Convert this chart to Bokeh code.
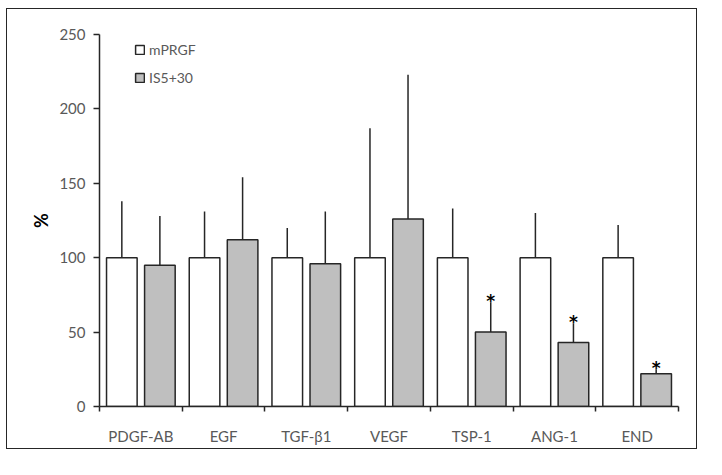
from bokeh.plotting import figure
from bokeh.layouts import column, row
from bokeh.models import FixedTicker, Legend, LegendItem, Spacer
from bokeh.core.properties import value
from bokeh.embed import file_html
from bokeh.resources import INLINE

# data
factors = ["PDGF-AB", "EGF", "TGF-β1", "VEGF", "TSP-1", "ANG-1", "END"]
mprgf = [100, 100, 100, 100, 100, 100, 100]
mprgf_err = [38, 31, 20, 87, 33, 30, 22]
is530 = [95, 112, 96, 126, 50, 43, 22]
is530_err = [33, 42, 35, 97, 20, 13, 3]
significant = [False, False, False, False, True, True, True]
y_ticks = [0, 50, 100, 150, 200, 250]

FONT = "Lato"
TEXT = "#595959"
LINE = "#262626"
GRAY = "#bfbfbf"

offset = 0.23
bar_w = 0.37
centers = [i + 0.5 for i in range(len(factors))]
x_white = [c - offset for c in centers]
x_gray = [c + offset for c in centers]

p = figure(
    width=691,
    height=441,
    x_range=(0, len(factors)),
    y_range=(0, 250),
    output_backend="svg",
    toolbar_location=None,
    min_border_left=92,
    min_border_right=20,
    min_border_top=25,
    min_border_bottom=44,
    outline_line_color=None,
    background_fill_color="white",
    border_fill_color="white",
)
# chart-area border like the spreadsheet frame
p.styles = {"border": "1.5px solid #262626"}
p.grid.grid_line_color = None

# bars
r1 = p.vbar(x=x_white, top=mprgf, bottom=0, width=bar_w, fill_color="white",
            line_color=LINE, line_width=1.5)
r2 = p.vbar(x=x_gray, top=is530, bottom=0, width=bar_w, fill_color=GRAY,
            line_color=LINE, line_width=1.5)

# upper error bars
p.segment(x0=x_white, y0=mprgf, x1=x_white,
          y1=[v + e for v, e in zip(mprgf, mprgf_err)], line_color=LINE, line_width=1.5)
p.segment(x0=x_gray, y0=is530, x1=x_gray,
          y1=[v + e for v, e in zip(is530, is530_err)], line_color=LINE, line_width=1.5)

# significance marks
star_x = [x for x, s in zip(x_gray, significant) if s]
star_y = [v + e for v, e, s in zip(is530, is530_err, significant) if s]
p.text(x=star_x, y=star_y, text=["*"] * len(star_x), text_align="center",
       text_baseline="bottom", text_font=value("DejaVu Sans"), text_font_style="bold",
       text_font_size="17px", text_color="#000000", y_offset=9)

# axes
p.xaxis.ticker = FixedTicker(ticks=centers, minor_ticks=list(range(len(factors) + 1)))
p.xaxis.major_label_overrides = {c: f for c, f in zip(centers, factors)}
p.xaxis.major_tick_line_color = None
p.xaxis.minor_tick_line_color = LINE
p.xaxis.minor_tick_line_width = 1.5
p.xaxis.minor_tick_out = 5
p.xaxis.minor_tick_in = 0
p.xaxis.major_label_standoff = 14

p.yaxis.ticker = FixedTicker(ticks=y_ticks)
p.yaxis.minor_tick_line_color = None
p.yaxis.major_tick_line_color = LINE
p.yaxis.major_tick_line_width = 1.5
p.yaxis.major_tick_out = 6
p.yaxis.major_tick_in = 0
p.yaxis.major_label_standoff = 8
p.yaxis.axis_label = "%"
p.yaxis.axis_label_text_font = FONT
p.yaxis.axis_label_text_font_style = "bold"
p.yaxis.axis_label_text_font_size = "18px"
p.yaxis.axis_label_text_color = "black"
p.yaxis.axis_label_standoff = 4

for ax in (p.xaxis, p.yaxis):
    ax.axis_line_color = LINE
    ax.axis_line_width = 1.5
    ax.major_label_text_font = FONT
    ax.major_label_text_font_size = "15px"
    ax.major_label_text_color = TEXT

legend = Legend(
    items=[LegendItem(label="mPRGF", renderers=[r1]),
           LegendItem(label="IS5+30", renderers=[r2])],
    location=(35, 319),
    orientation="vertical",
    glyph_width=11,
    glyph_height=11,
    label_height=20,
    spacing=8,
    padding=0,
    margin=0,
    label_standoff=4,
    label_text_font=FONT,
    label_text_font_size="14px",
    label_text_color=TEXT,
    border_line_color=None,
    background_fill_alpha=0,
)
p.add_layout(legend)

# shift the framed chart to where it sits in the reference
page = row(Spacer(width=6), column(Spacer(height=8), p, spacing=0), spacing=0)
open("out.html", "w").write(file_html(page, INLINE))
